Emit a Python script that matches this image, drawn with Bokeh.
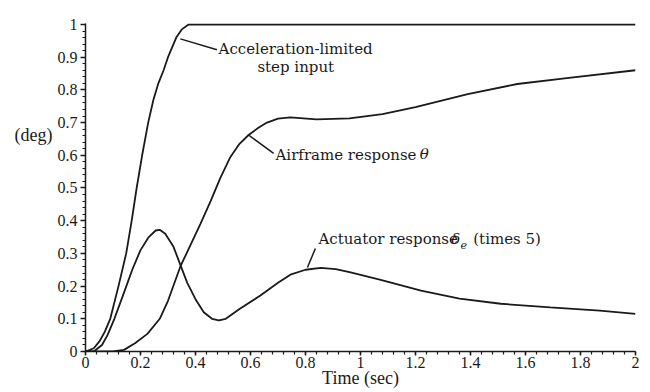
from bokeh.plotting import figure
from bokeh.models import Range1d, FixedTicker, ColumnDataSource
from bokeh.core.properties import value
from bokeh.embed import file_html
from bokeh.resources import INLINE

# Acceleration-limited step input
step_t = [0, 0.03, 0.05, 0.07, 0.09, 0.12, 0.148, 0.168, 0.186, 0.206, 0.228, 0.247, 0.265, 0.284, 0.30,
          0.33, 0.35, 0.375, 2.0]
step_v = [0, 0.01, 0.03, 0.06, 0.10, 0.20, 0.30, 0.40, 0.50, 0.60, 0.70, 0.77, 0.82, 0.86, 0.90,
          0.96, 0.985, 1.0, 1.0]

# Airframe response theta
air_t = [0, 0.10, 0.14, 0.18, 0.225, 0.27, 0.30, 0.345, 0.418, 0.455, 0.49, 0.527, 0.56, 0.593, 0.63,
         0.66, 0.70, 0.745, 0.84, 0.96, 1.08, 1.20, 1.39, 1.57, 1.75, 2.0]
air_v = [0, 0.0, 0.005, 0.025, 0.054, 0.10, 0.155, 0.26, 0.39, 0.46, 0.53, 0.595, 0.635, 0.662, 0.685,
         0.70, 0.712, 0.716, 0.71, 0.713, 0.726, 0.747, 0.787, 0.818, 0.836, 0.86]

# Actuator response delta_e (times 5)
act_t = [0, 0.03, 0.06, 0.08, 0.105, 0.14, 0.17, 0.20, 0.23, 0.255, 0.27, 0.29, 0.32, 0.345, 0.37, 0.40,
         0.43, 0.46, 0.485, 0.51, 0.56, 0.636, 0.70, 0.745, 0.80, 0.855, 0.91, 0.964, 1.07, 1.22, 1.36,
         1.51, 1.69, 1.87, 2.0]
act_v = [0, 0.0, 0.02, 0.05, 0.10, 0.18, 0.25, 0.31, 0.35, 0.37, 0.372, 0.36, 0.32, 0.265, 0.21, 0.16,
         0.12, 0.10, 0.095, 0.10, 0.13, 0.171, 0.21, 0.235, 0.25, 0.256, 0.252, 0.242, 0.22, 0.186, 0.162,
         0.146, 0.135, 0.125, 0.115]

x_ticks = [0, 0.2, 0.4, 0.6, 0.8, 1, 1.2, 1.4, 1.6, 1.8, 2]
x_tick_labels = {0: "0", 0.2: "0.2", 0.4: "0.4", 0.6: "0.6", 0.8: "0.8", 1: "1", 1.2: "1.2",
                 1.4: "1.4", 1.6: "1.6", 1.8: "1.8", 2: "2"}
y_ticks = [0, 0.1, 0.2, 0.3, 0.4, 0.5, 0.6, 0.7, 0.8, 0.9, 1]
y_tick_labels = {0: "0", 0.1: "0.1", 0.2: "0.2", 0.3: "0.3", 0.4: "0.4", 0.5: "0.5", 0.6: "0.6",
                 0.7: "0.7", 0.8: "0.8", 0.9: "0.9", 1: "1"}

# annotation texts and anchors (data coordinates)
ann_text = ["Acceleration-limited", "step input", "Airframe response", "Actuator response", "(times 5)"]
ann_x = [0.484, 0.625, 0.691, 0.847, 1.410]
ann_y = [0.925, 0.870, 0.600, 0.343, 0.343]
sym_text = ["θ", "δ"]
sym_x = [1.215, 1.330]
sym_y = [0.603, 0.345]
sub_text = ["e"]
sub_x = [1.364]
sub_y = [0.325]

FONT = "Times New Roman"
ANN_FONT = "DejaVu Serif"
INK = "#1a1a1a"
FS = "18px"
ANN_FS = "15px"

p = figure(width=642, height=392, output_backend="svg", toolbar_location=None,
           x_range=Range1d(0, 2), y_range=Range1d(0, 1.003),
           min_border_left=85, min_border_right=7, min_border_top=23, min_border_bottom=41)
p.outline_line_color = None
p.grid.visible = False
p.background_fill_color = "white"
p.border_fill_color = "white"

lw = 1.8
p.line(step_t, step_v, line_color=INK, line_width=lw)
p.line(air_t, air_v, line_color=INK, line_width=lw)
p.line(act_t, act_v, line_color=INK, line_width=lw)

minor_x = [i * 0.04 for i in range(51)]
minor_y = [i * 0.02 for i in range(51)]

xa = p.xaxis[0]
xa.ticker = FixedTicker(ticks=x_ticks, minor_ticks=minor_x)
xa.major_label_overrides = x_tick_labels
xa.major_label_text_font = FONT
xa.major_label_text_font_size = "16px"
xa.major_label_text_color = INK
xa.major_label_standoff = 1
xa.axis_label = "Time (sec)"
xa.axis_label_text_font = FONT
xa.axis_label_text_font_style = "normal"
xa.axis_label_text_font_size = FS
xa.axis_label_text_color = INK
xa.axis_label_standoff = -3
xa.axis_line_width = 1.5
xa.axis_line_color = INK
xa.major_tick_out = 4
xa.major_tick_in = 0
xa.minor_tick_out = 3
xa.minor_tick_in = 0
xa.major_tick_line_width = 1.5
xa.minor_tick_line_width = 1.2
xa.major_tick_line_color = INK
xa.minor_tick_line_color = INK

ya = p.yaxis[0]
ya.ticker = FixedTicker(ticks=y_ticks, minor_ticks=minor_y)
ya.major_label_overrides = y_tick_labels
ya.major_label_text_font = FONT
ya.major_label_text_font_size = "16px"
ya.major_label_text_color = INK
ya.major_label_standoff = 3
ya.axis_label = "(deg)\n "
ya.axis_label_orientation = "horizontal"
ya.axis_label_text_line_height = 5.3
ya.axis_label_text_font = FONT
ya.axis_label_text_font_style = "normal"
ya.axis_label_text_font_size = FS
ya.axis_label_text_color = INK
ya.axis_label_standoff = 2
ya.axis_line_width = 1.5
ya.axis_line_color = INK
ya.major_tick_out = 5
ya.major_tick_in = 0
ya.minor_tick_out = 3
ya.minor_tick_in = 0
ya.major_tick_line_width = 1.5
ya.minor_tick_line_width = 1.2
ya.major_tick_line_color = INK
ya.minor_tick_line_color = INK

# annotations as text glyphs
p.text(x=ann_x, y=ann_y, text=ann_text, text_font=value(ANN_FONT), text_font_size=ANN_FS,
       text_color=INK, text_align="left", text_baseline="middle")
p.text(x=sym_x, y=sym_y, text=sym_text, text_font=value(ANN_FONT), text_font_size=ANN_FS,
       text_font_style="italic", text_color=INK, text_align="left", text_baseline="middle")
p.text(x=sub_x, y=sub_y, text=sub_text, text_font=value(ANN_FONT), text_font_size="11px",
       text_font_style="italic", text_color=INK, text_align="left", text_baseline="middle")

# leader lines
lead = ColumnDataSource(dict(x0=[0.345, 0.593, 0.836], y0=[0.956, 0.662, 0.315],
                             x1=[0.478, 0.684, 0.807], y1=[0.923, 0.606, 0.257]))
p.segment(x0="x0", y0="y0", x1="x1", y1="y1", source=lead, line_color=INK, line_width=1.5)

open("out.html", "w").write(file_html(p, INLINE))
